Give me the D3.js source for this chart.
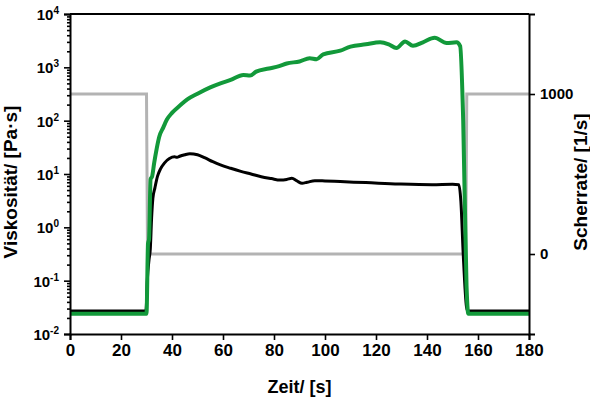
<!DOCTYPE html>
<html>
<head>
<meta charset="utf-8">
<script src="https://cdn.jsdelivr.net/npm/d3@7/dist/d3.min.js"></script>
<style>
  body { margin: 0; background: #fff; }
  svg text { font-family: "Liberation Sans", Arial, sans-serif; font-weight: bold; fill: #000; }
</style>
</head>
<body>
<svg id="chart" width="590" height="399"></svg>
<script>
// time [s] / viscosity [Pa·s], black curve
const blackTime = [0, 29.8, 30.3, 31, 31.5, 32, 32.5, 33.3, 34.3, 35.5, 37, 39, 41, 42, 43, 45, 47, 50, 53, 56, 59, 63, 67, 71, 75, 79, 82.4, 85, 87, 89, 91, 93, 96, 100, 106, 116, 129, 142, 150, 152.5, 153.3, 154.2, 155.5, 156, 180];
const blackVisc = [0.027, 0.027, 0.1, 0.25, 0.4, 1.5, 3.5, 5.5, 9, 12.5, 16, 19.5, 21, 20.5, 21.5, 23, 24, 23, 20, 17, 14.8, 12.8, 11.2, 10, 8.9, 8.2, 7.7, 7.9, 8.3, 7.4, 6.7, 7.0, 7.5, 7.4, 7.2, 6.9, 6.5, 6.3, 6.4, 6.3, 3, 0.32, 0.032, 0.027, 0.027];

// time [s] / viscosity [Pa·s], green curve
const greenTime = [0, 30, 30.6, 31, 31.6, 32.2, 33, 34, 35, 36.6, 38, 40, 43, 46, 50, 55, 59, 63, 68, 70.6, 73, 78, 82, 85, 90, 94, 96.7, 99.3, 106, 110, 116, 121.6, 125, 128, 131.4, 134.5, 138.4, 143, 147.7, 151.6, 153, 154.2, 155.5, 156.2, 180];
const greenVisc = [0.024, 0.024, 0.5, 0.6, 8, 9, 16, 30, 50, 75, 105, 140, 190, 250, 320, 420, 500, 580, 720, 700, 830, 950, 1050, 1180, 1290, 1480, 1420, 1750, 2050, 2450, 2700, 2950, 2700, 2300, 3050, 2550, 2950, 3600, 2850, 2950, 2500, 100, 0.08, 0.024, 0.024];

// shear rate [1/s], grey step curve
const shearTime = [0, 30, 30.4, 155.2, 155.6, 180];
const shearRate = [1000, 1000, 0, 0, 1000, 1000];

const xTicks = [0, 20, 40, 60, 80, 100, 120, 140, 160, 180];
const yExps = [-2, -1, 0, 1, 2, 3, 4];
const y2Ticks = [0, 1000];

const svg = d3.select('#chart');
const mLeft = 70, mRight = 529, mTop = 14, mBottom = 334;

const x = d3.scaleLinear().domain([0, 180]).range([mLeft, mRight]);
const y = d3.scaleLog().domain([0.01, 10000]).range([mBottom, mTop]);
const y2 = d3.scaleLinear().domain([-500, 1500]).range([mBottom, mTop]);

// curves
const lineV = d3.line().x(d => x(d[0])).y(d => y(d[1])).curve(d3.curveMonotoneX);
const lineS = d3.line().x(d => x(d[0])).y(d => y2(d[1]));

svg.append('path')
  .datum(d3.zip(shearTime, shearRate))
  .attr('d', lineS)
  .attr('fill', 'none')
  .attr('stroke', '#b3b3b3')
  .attr('stroke-width', 3);

svg.append('path')
  .datum(d3.zip(blackTime, blackVisc))
  .attr('d', lineV)
  .attr('fill', 'none')
  .attr('stroke', '#000')
  .attr('stroke-width', 3)
  .attr('stroke-linejoin', 'round');

svg.append('path')
  .datum(d3.zip(greenTime, greenVisc))
  .attr('d', lineV)
  .attr('fill', 'none')
  .attr('stroke', '#12993a')
  .attr('stroke-width', 4)
  .attr('stroke-linejoin', 'round');

// top frame
svg.append('line')
  .attr('x1', mLeft).attr('x2', mRight)
  .attr('y1', mTop).attr('y2', mTop)
  .attr('stroke', '#000').attr('stroke-width', 2);

// x axis
const gx = svg.append('g')
  .attr('transform', `translate(0,${mBottom})`)
  .call(d3.axisBottom(x).tickValues(xTicks).tickSize(6).tickPadding(4).tickFormat(d3.format('d')));
gx.selectAll('text').attr('font-size', 17).attr('font-family', null);

// left log axis with minor ticks
const minor = [];
yExps.slice(0, -1).forEach(e => { for (let k = 2; k < 10; k++) minor.push(k * Math.pow(10, e)); });
svg.append('g')
  .attr('transform', `translate(${mLeft},0)`)
  .call(d3.axisLeft(y).tickValues(minor).tickSize(3).tickFormat(''))
  .call(g => g.select('.domain').remove());
const gy = svg.append('g')
  .attr('transform', `translate(${mLeft},0)`)
  .call(d3.axisLeft(y).tickValues(yExps.map(e => Math.pow(10, e))).tickSize(6).tickFormat(''));
gy.selectAll('.tick text').remove();
gy.selectAll('.tick').each(function(d) {
  const t = d3.select(this).append('text')
    .attr('dy', '0.36em')
    .attr('text-anchor', 'start')
    .attr('font-size', 15);
  t.append('tspan').text('10');
  t.append('tspan').attr('dy', '-0.6em').attr('font-size', 10).text(Math.round(Math.log10(d)));
  const w = t.node().getComputedTextLength();
  t.attr('x', -11 - w);
});

// right axis
const gy2 = svg.append('g')
  .attr('transform', `translate(${mRight},0)`)
  .call(d3.axisRight(y2).tickValues(y2Ticks).tickSize(6).tickPadding(5).tickFormat(d3.format('d')));
gy2.selectAll('text').attr('font-size', 15).attr('font-family', null);

svg.selectAll('.domain').attr('stroke-width', 2);
svg.selectAll('.tick line').attr('stroke-width', 1.6);

// axis titles
svg.append('text')
  .attr('x', (mLeft + mRight) / 2).attr('y', 393)
  .attr('text-anchor', 'middle').attr('font-size', 18)
  .text('Zeit/ [s]');

svg.append('text')
  .attr('transform', 'translate(17,182) rotate(-90)')
  .attr('text-anchor', 'middle').attr('font-size', 19)
  .text('Viskosität/ [Pa·s]');

svg.append('text')
  .attr('transform', 'translate(587,182) rotate(-90)')
  .attr('text-anchor', 'middle').attr('font-size', 19)
  .text('Scherrate/ [1/s]');
</script>
</body>
</html>
